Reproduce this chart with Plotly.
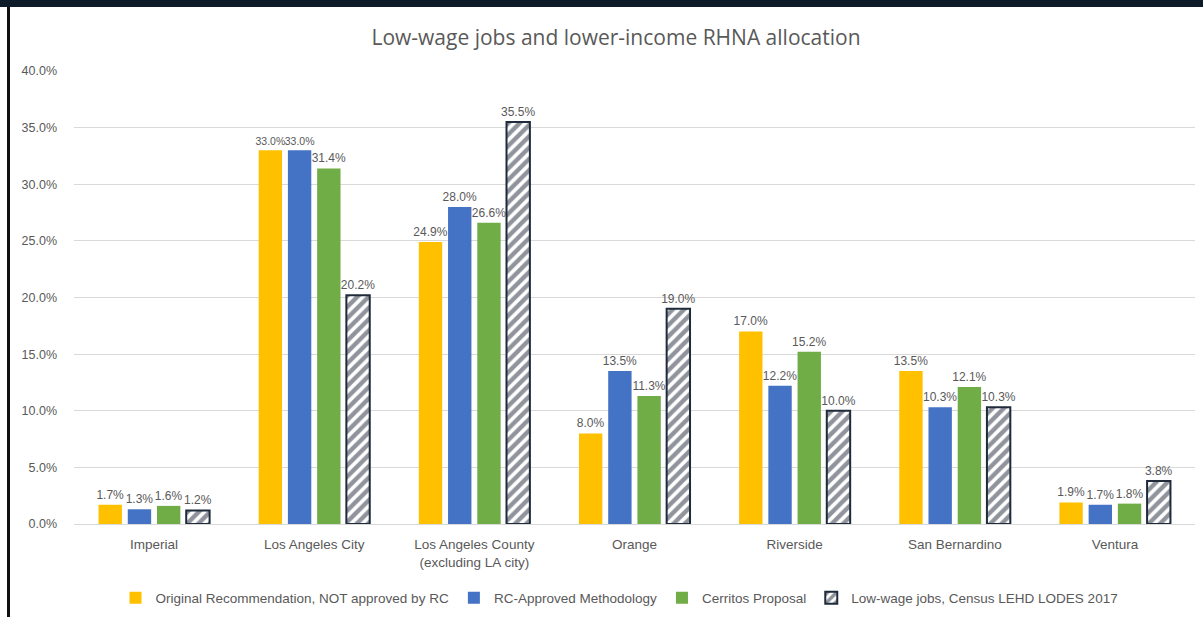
import plotly.graph_objects as go

categories = ["Imperial", "Los Angeles City", "Los Angeles County<br>(excluding LA city)",
              "Orange", "Riverside", "San Bernardino", "Ventura"]
series_names = ["Original Recommendation, NOT approved by RC", "RC-Approved Methodology",
                "Cerritos Proposal", "Low-wage jobs, Census LEHD LODES 2017"]
original = [0.017, 0.330, 0.249, 0.080, 0.170, 0.135, 0.019]
rc_approved = [0.013, 0.330, 0.280, 0.135, 0.122, 0.103, 0.017]
cerritos = [0.016, 0.314, 0.266, 0.113, 0.152, 0.121, 0.018]
low_wage = [0.012, 0.202, 0.355, 0.190, 0.100, 0.103, 0.038]
y_ticks = [0, 0.05, 0.10, 0.15, 0.20, 0.25, 0.30, 0.35, 0.40]

W, H = 1203, 617
ML, MR, MT, MB = 74, 8, 71, 93
PW, PH = W - ML - MR, H - MT - MB

def px_x(p):
    return (p - ML) / PW

def px_y(p):
    return (H - MB - p) / PH

GREY = "#595959"
NAVY = "#1f2a3a"
fig = go.Figure()
colors = ["#FFC000", "#4472C4", "#70AD47"]
all_series = [original, rc_approved, cerritos]
for idx, (name, vals, col) in enumerate(zip(series_names[:3], all_series, colors)):
    # shrink labels that would collide with the neighbouring equal-height label
    sizes = []
    for j, v in enumerate(vals):
        crowded = (idx == 0 and abs(rc_approved[j] - v) < 1e-9) or \
                  (idx == 1 and abs(original[j] - v) < 1e-9)
        sizes.append(10.5 if crowded else 12)
    fig.add_trace(go.Bar(
        x=categories, y=vals, name=name,
        marker=dict(color=col, line=dict(width=0)),
        text=[f"{v*100:.1f}%" for v in vals], textposition="outside",
        textfont=dict(size=sizes, color=GREY, family="Liberation Sans"),
        constraintext="none", cliponaxis=False,
    ))
fig.add_trace(go.Bar(
    x=categories, y=low_wage, name=series_names[3],
    marker=dict(color="white", line=dict(color=NAVY, width=2),
                pattern=dict(shape="/", fgcolor=NAVY, bgcolor="white", size=8, solidity=0.55)),
    text=[f"{v*100:.1f}%" for v in low_wage], textposition="outside",
    textfont=dict(size=12, color=GREY, family="Liberation Sans"),
    constraintext="none", cliponaxis=False,
))

fig.update_layout(
    width=W, height=H,
    margin=dict(l=ML, r=MR, t=MT, b=MB, autoexpand=False),
    paper_bgcolor="white", plot_bgcolor="white",
    barmode="group", bargap=0.27, bargroupgap=0.2,
    font=dict(family="Liberation Sans", color=GREY),
    title=dict(text="Low-wage jobs and lower-income RHNA allocation",
               x=616 / W, xanchor="center", y=1 - 38 / H, yanchor="middle",
               font=dict(size=21, color=GREY, family="Open Sans")),
    legend=dict(orientation="h", x=0.5 - (634 - 619) / PW, xanchor="center",
                y=px_y(598), yanchor="middle",
                font=dict(size=13.5, color=GREY, family="Liberation Sans"),
                itemclick=False),
    xaxis=dict(showgrid=False, showline=True, linecolor="#d9d9d9", linewidth=1,
               tickfont=dict(size=13.5, color=GREY), ticks="", ticklabelstandoff=8,
               automargin=False),
    yaxis=dict(range=[0, 0.40], tickvals=y_ticks, tickformat=".1%",
               showgrid=True, gridcolor="#d9d9d9", gridwidth=1, zeroline=False,
               tickfont=dict(size=12.5, color=GREY), ticklabelstandoff=16,
               automargin=False),
    shapes=[
        dict(type="rect", xref="paper", yref="paper",
             x0=px_x(0), x1=px_x(W), y0=px_y(0), y1=px_y(7),
             fillcolor="#0e1c2a", line=dict(width=0), layer="above"),
        dict(type="rect", xref="paper", yref="paper",
             x0=px_x(7), x1=px_x(10), y0=px_y(7), y1=px_y(H),
             fillcolor="#111111", line=dict(width=0), layer="above"),
    ],
)

fig.write_html("out.html")
